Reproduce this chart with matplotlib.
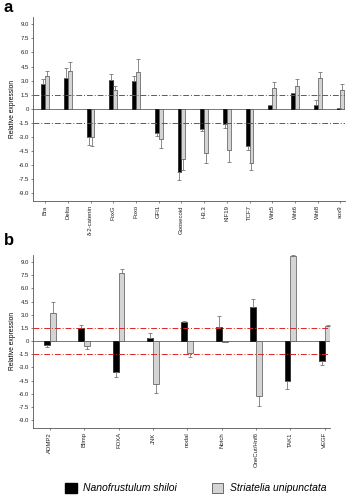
import matplotlib
matplotlib.use("Agg")
import matplotlib.pyplot as plt
from matplotlib.patches import Patch
import numpy as np

plt.rcParams['font.family'] = ['Liberation Sans', 'DejaVu Sans']

# panel a
genes_a = ["Bra", "Delta", "δ-2-catenin", "FoxG", "Foxo", "GFI1", "Goosecoid",
           "H3.3", "KIF19", "TCF7", "Wnt5", "Wnt6", "Wnt8", "sox9"]
nano_a = [2.6, 3.3, -3.0, 3.1, 3.0, -2.6, -6.8, -2.2, -1.7, -4.0, 0.4, 1.7, 0.35, 0.05]
nano_a_err = [0.6, 1.0, 0.9, 0.6, 0.5, 0.3, 0.8, 0.2, 0.4, 0.4, 0.0, 0.0, 0.55, 0.0]
stri_a = [3.45, 4.0, -3.1, 2.0, 3.9, -3.3, -5.4, -4.75, -4.4, -5.8, 2.25, 2.45, 3.3, 2.0]
stri_a_err = [0.55, 1.0, 0.9, 0.4, 1.35, 0.9, 1.2, 1.05, 1.3, 0.8, 0.6, 0.7, 0.6, 0.6]

# panel b
genes_b = ["ADMP2", "Blimp", "FOXA", "JNK", "nodal", "Notch", "OneCut/Hnf6", "TAK1", "VEGF"]
nano_b = [-0.45, 1.5, -3.5, 0.3, 2.2, 1.6, 3.9, -4.5, -2.25]
nano_b_err = [0.25, 0.3, 0.6, 0.65, 0.1, 1.25, 0.85, 1.0, 0.5]
stri_b = [3.25, -0.55, 7.7, -4.9, -1.4, -0.08, -6.3, 9.7, 1.75]
stri_b_err = [1.25, 0.35, 0.5, 1.0, 0.45, 0.0, 1.1, 0.1, 0.1]

yticks = [9.0, 7.5, 6.0, 4.5, 3.0, 1.5, 0, -1.5, -3.0, -4.5, -6.0, -7.5, -9.0]
threshold = 1.5

BLACK = "#000000"
GRAY = "#d4d4d4"
RED = "#d42828"
W = 0.17


def one_sided(vals, errs):
    # error bar only on the side the bar points to
    vals = np.asarray(vals)
    errs = np.asarray(errs)
    lower = np.where(vals < 0, errs, 0)
    upper = np.where(vals >= 0, errs, 0)
    return [lower, upper]


def panel(ax, genes, nano, nano_err, stri, stri_err, xlim, ylim):
    x = np.arange(len(genes))
    ekw = dict(ecolor="#777777", elinewidth=0.6, capsize=1.2, capthick=0.6)
    ax.bar(x - W / 2, nano, W, color=BLACK, edgecolor=BLACK, linewidth=0.4,
           yerr=one_sided(nano, nano_err), error_kw=ekw, zorder=3)
    ax.bar(x + W / 2, stri, W, color=GRAY, edgecolor="#555555", linewidth=0.5,
           yerr=one_sided(stri, stri_err), error_kw=ekw, zorder=3)
    ax.axhline(0, color="#777777", linewidth=0.7, zorder=2)
    for t in (threshold, -threshold):
        ax.axhline(t, color=RED, linestyle=(0, (6, 2, 1, 2)), linewidth=0.7, zorder=4)
    ax.set_xticks(x)
    ax.set_xticklabels(genes, rotation=90, fontsize=4.3, color="#222222")
    ax.set_yticks(yticks)
    ax.set_yticklabels([f"{t:.1f}" if t != 0 else "0" for t in yticks], fontsize=4.3, color="#222222")
    ax.set_xlim(*xlim)
    ax.set_ylim(*ylim)
    ax.set_ylabel("Relative expression", fontsize=4.8, labelpad=2)
    for s in ["top", "right"]:
        ax.spines[s].set_visible(False)
    for s in ["left", "bottom"]:
        ax.spines[s].set_color("#555555")
        ax.spines[s].set_linewidth(0.6)
    ax.tick_params(length=1.5, width=0.5, pad=1.5, color="#555555")


fig = plt.figure(figsize=(3.59, 5.0), dpi=100)
ax_a = fig.add_axes([0.092, 0.598, 0.869, 0.368])
ax_b = fig.add_axes([0.092, 0.144, 0.827, 0.346])

panel(ax_a, genes_a, nano_a, nano_a_err, stri_a, stri_a_err, (-0.53, 13.2), (-9.9, 9.8))
panel(ax_b, genes_b, nano_b, nano_b_err, stri_b, stri_b_err, (-0.49, 8.15), (-9.9, 9.8))

fig.text(0.01, 0.984, "a", fontsize=12, fontweight="bold", va="center")
fig.text(0.01, 0.519, "b", fontsize=12, fontweight="bold", va="center")

handles = [Patch(facecolor=BLACK, edgecolor=BLACK, label="Nanofrustulum shiloi"),
           Patch(facecolor=GRAY, edgecolor="#555555", linewidth=0.6, label="Striatelia unipunctata")]
fig.legend(handles=handles, loc="center", bbox_to_anchor=(0.545, 0.024), ncol=2,
           frameon=False, handlelength=1.1, handleheight=1.1, columnspacing=3.4,
           handletextpad=0.6, prop={"size": 7.5, "style": "italic"})

fig.savefig("out.png", dpi=100)
